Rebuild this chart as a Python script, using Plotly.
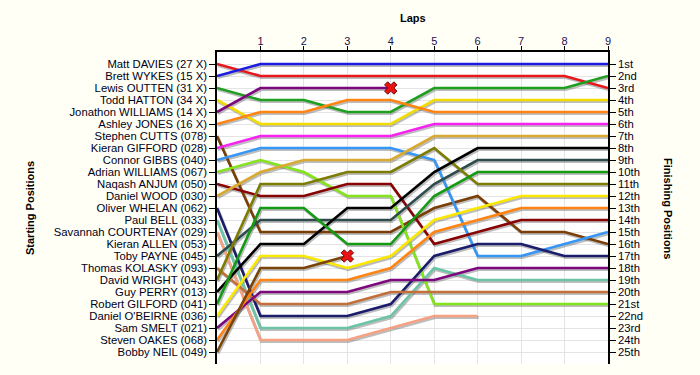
import plotly.graph_objects as go

laps = list(range(0, 10))
lap_ticks = list(range(1, 10))

drivers = ["Matt DAVIES (27 X)", "Brett WYKES (15 X)", "Lewis OUTTEN (31 X)", "Todd HATTON (34 X)",
           "Jonathon WILLIAMS (14 X)", "Ashley JONES (16 X)", "Stephen CUTTS (078)", "Kieran GIFFORD (028)",
           "Connor GIBBS (040)", "Adrian WILLIAMS (067)", "Naqash ANJUM (050)", "Daniel WOOD (030)",
           "Oliver WHELAN (062)", "Paul BELL (033)", "Savannah COURTENAY (029)", "Kieran ALLEN (053)",
           "Toby PAYNE (045)", "Thomas KOLASKY (093)", "David WRIGHT (043)", "Guy PERRY (013)",
           "Robert GILFORD (041)", "Daniel O'BEIRNE (036)", "Sam SMELT (021)", "Steven OAKES (068)",
           "Bobby NEIL (049)"]

finish_labels = ["1st", "2nd", "3rd"] + [f"{i}th" for i in range(4, 21)] + ["21st", "22nd", "23rd", "24th", "25th"]

# positions per lap (index = lap number, lap 0 = grid)
matt_davies = [1, 2, 2, 2, 2, 2, 2, 2, 2, 3]
brett_wykes = [2, 1, 1, 1, 1, 1, 1, 1, 1, 1]
lewis_outten = [3, 4, 4, 5, 5, 3, 3, 3, 3, 2]
todd_hatton = [4, 6, 6, 6, 6, 4, 4, 4, 4, 4]
jonathon_williams = [5, 3, 3, 3, 3]
ashley_jones = [6, 5, 5, 4, 4, 5, 5, 5, 5, 5]
stephen_cutts = [7, 15, 15, 15, 15, 13, 12, 15, 15, 16]
kieran_gifford = [8, 7, 7, 7, 7, 6, 6, 6, 6, 6]
connor_gibbs = [9, 8, 8, 8, 8, 9, 17, 17, 16, 15]
adrian_williams = [10, 9, 10, 12, 12, 21, 21, 21, 21, 21]
naqash_anjum = [11, 12, 12, 11, 11, 16, 15, 14, 14, 14]
daniel_wood = [12, 10, 9, 9, 9, 7, 7, 7, 7, 7]
oliver_whelan = [13, 22, 22, 22, 21, 17, 16, 16, 17, 17]
paul_bell = [14, 23, 23, 23, 22, 18, 19, 19, 19, 19]
savannah_courtenay = [15, 24, 24, 24, 23, 22, 22]
kieran_allen = [16]
toby_payne = [17, 14, 14, 14, 14, 11, 9, 9, 9, 9]
thomas_kolasky = [18, 21, 21, 21, 20, 20, 20, 20, 20, 20]
david_wright = [19, 11, 11, 10, 10, 8, 11, 11, 11, 11]
guy_perry = [20, 16, 16, 13, 13, 10, 8, 8, 8, 8]
robert_gilford = [21, 13, 13, 16, 16, 12, 10, 10, 10, 10]
daniel_obeirne = [22, 17, 17, 18, 17, 14, 13, 12, 12, 12]
sam_smelt = [23, 20, 20, 20, 19, 19, 18, 18, 18, 18]
steven_oakes = [24, 19, 19, 19, 18, 15, 14, 13, 13, 13]
bobby_neil = [25, 18, 18, 17]

series = [matt_davies, brett_wykes, lewis_outten, todd_hatton, jonathon_williams, ashley_jones,
          stephen_cutts, kieran_gifford, connor_gibbs, adrian_williams, naqash_anjum, daniel_wood,
          oliver_whelan, paul_bell, savannah_courtenay, kieran_allen, toby_payne, thomas_kolasky,
          david_wright, guy_perry, robert_gilford, daniel_obeirne, sam_smelt, steven_oakes, bobby_neil]

retired = [False, False, False, False, True, False, False, False, False, False, False, False,
           False, False, False, False, False, False, False, False, False, False, False, False, True]

colors = ["#e8171c", "#1c1ce0", "#1f9e1f", "#f2dc00", "#7d087d", "#ff8412", "#7a3e06", "#f522f0",
          "#3596f5", "#84e41c", "#880404", "#d8aa30", "#1c1c6c", "#6cc4a6", "#f5a283", "#555555",
          "#2f4c4c", "#c26f3a", "#7c7c04", "#000000", "#149a14", "#fbe800", "#7d087d", "#ff8412",
          "#7a4406"]

fig = go.Figure()

# drop shadows (same data, nudged a pixel or two)
dx = 1.0 * 9 / 390.5
dy = 1.6 / 12.0
for pos in series:
    xs = [laps[i] + dx for i in range(len(pos))]
    ys = [p + dy for p in pos]
    fig.add_trace(go.Scatter(x=xs, y=ys, mode="lines", line=dict(color="rgba(90,90,90,0.4)", width=3),
                             hoverinfo="skip", showlegend=False))

for name, pos, col in zip(drivers, series, colors):
    fig.add_trace(go.Scatter(x=laps[:len(pos)], y=pos, mode="lines", line=dict(color=col, width=2.6),
                             name=name, showlegend=False))

for name, pos, ret in zip(drivers, series, retired):
    if ret:
        fig.add_trace(go.Scatter(x=[laps[len(pos) - 1]], y=[pos[-1]], mode="markers",
                                 marker=dict(symbol="x", size=11, color="#ee1111",
                                             line=dict(color="#661111", width=1)),
                                 showlegend=False, hoverinfo="skip"))

# dummy trace for right axis
fig.add_trace(go.Scatter(x=[laps[0]], y=[1], yaxis="y2", mode="markers", marker=dict(opacity=0),
                         showlegend=False, hoverinfo="skip"))

font_family = "Liberation Sans, Arial, sans-serif"
ypos = list(range(1, 26))

fig.update_layout(
    width=700, height=375,
    margin=dict(l=217, r=92, t=52, b=11, autoexpand=False),
    paper_bgcolor="#fffff5",
    plot_bgcolor="#ffffff",
    font=dict(family=font_family, size=11, color="#000000"),
    xaxis=dict(range=[0, 9], side="top", tickvals=lap_ticks, ticktext=[str(v) for v in lap_ticks],
               showgrid=True, gridcolor="#e4e4e4", gridwidth=1, zeroline=False, automargin=False,
               showline=True, linecolor="#000000", linewidth=1.5, ticks="outside", ticklen=4,
               ticklabelstandoff=-3,
               tickcolor="#000000", tickfont=dict(size=11, color="#1a1050")),
    yaxis=dict(range=[26, 0], tickvals=ypos, ticktext=drivers, showgrid=True, gridcolor="#e4e4e4",
               zeroline=False, showline=True, linecolor="#000000", linewidth=1.5, ticks="outside",
               automargin=False, ticklen=6, tickcolor="#000000", tickfont=dict(size=11.3, color="#000020")),
    yaxis2=dict(range=[26, 0], overlaying="y", side="right", tickvals=ypos, ticktext=finish_labels,
                showgrid=False, zeroline=False, showline=True, linecolor="#000000", linewidth=1.5,
                automargin=False, ticks="outside", ticklen=6, tickcolor="#000000",
                tickfont=dict(size=11.3, color="#000020")),
    annotations=[
        dict(text="<b>Laps</b>", x=0.5, y=1, xref="paper", yref="paper", yshift=26, showarrow=False,
             font=dict(size=11), xanchor="center", yanchor="bottom"),
        dict(text="<b>Starting Positions</b>", x=0, xref="paper", xshift=-187, y=0.5, yref="paper",
             showarrow=False, textangle=-90, font=dict(size=11), xanchor="center", yanchor="middle"),
        dict(text="<b>Finishing Positions</b>", x=1, y=0.5, xref="paper", yref="paper", xshift=60,
             showarrow=False, textangle=90, font=dict(size=11), xanchor="center", yanchor="middle"),
    ],
)

fig.write_html("out.html", config={"displayModeBar": False},
               post_script="document.body.style.margin='0px';")
